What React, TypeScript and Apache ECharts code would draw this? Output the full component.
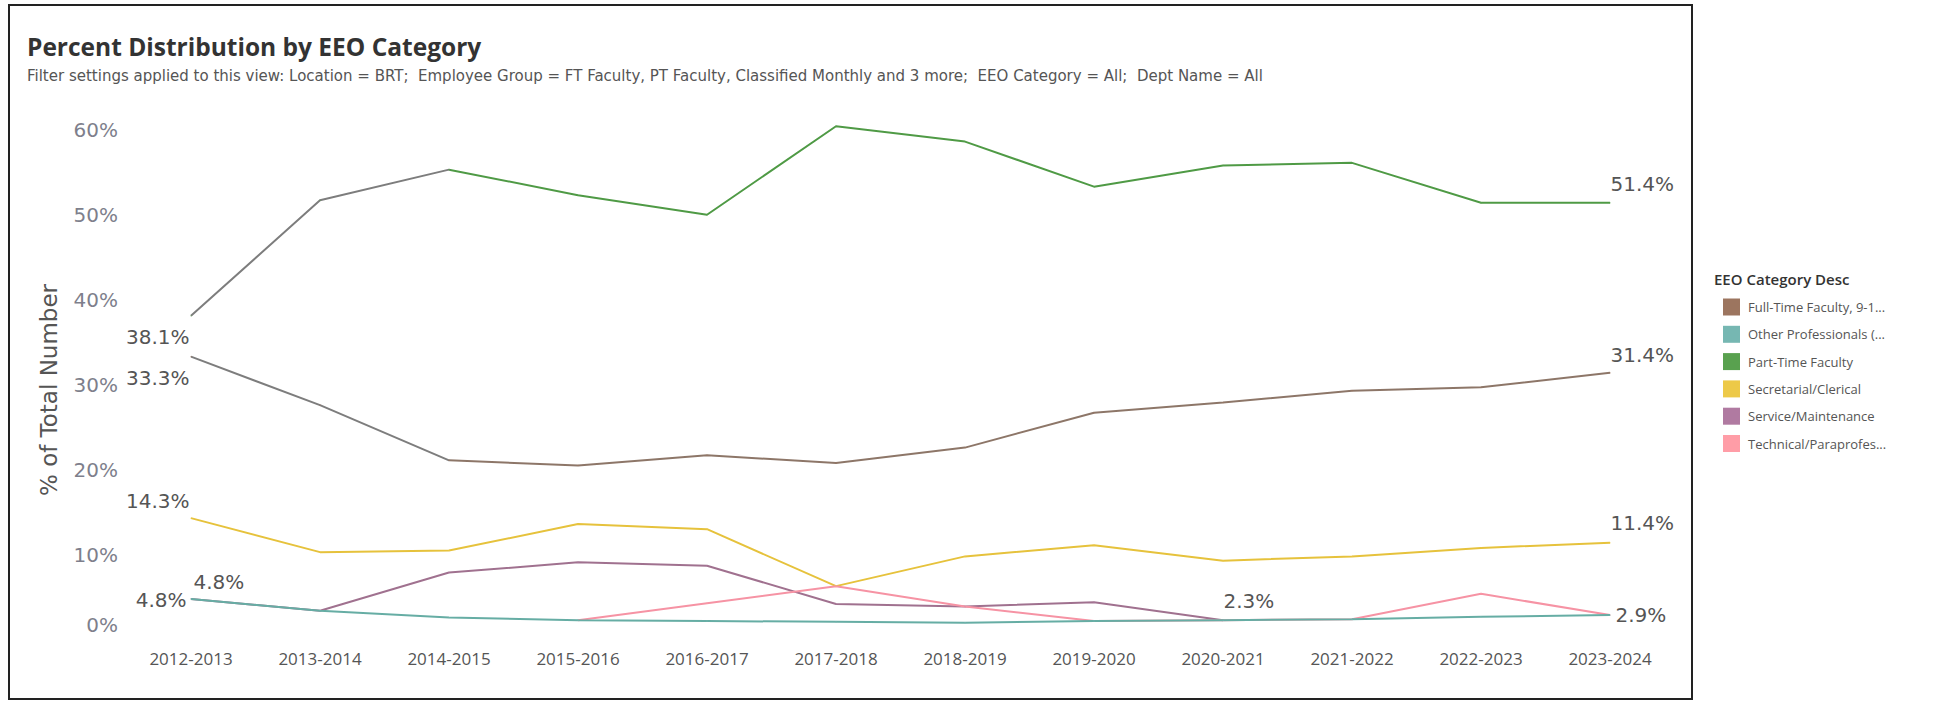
import React, { useEffect, useRef } from "react";
import * as echarts from "echarts";

const TITLE = "Percent Distribution by EEO Category";
const SUBTITLE =
  "Filter settings applied to this view: Location = BRT;  Employee Group = FT Faculty, PT Faculty, Classified Monthly and 3 more;  EEO Category = All;  Dept Name = All";
const Y_AXIS_TITLE = "% of Total Number";
const LEGEND_TITLE = "EEO Category Desc";

const years = [
  "2012-2013", "2013-2014", "2014-2015", "2015-2016", "2016-2017", "2017-2018",
  "2018-2019", "2019-2020", "2020-2021", "2021-2022", "2022-2023", "2023-2024",
];

const categoryNames = [
  "Full-Time Faculty, 9-1...",
  "Other Professionals (...",
  "Part-Time Faculty",
  "Secretarial/Clerical",
  "Service/Maintenance",
  "Technical/Paraprofes...",
];

const fullTimeFaculty = [33.3, 27.6, 21.1, 20.5, 21.7, 20.8, 22.6, 26.7, 27.9, 29.3, 29.7, 31.4];
const otherProfessionals = [4.8, 3.4, 2.6, 2.3, 2.2, 2.1, 2.0, 2.2, 2.3, 2.4, 2.7, 2.9];
const partTimeFaculty = [38.1, 51.7, 55.3, 52.3, 50.0, 60.4, 58.6, 53.3, 55.8, 56.1, 51.4, 51.4];
const secretarialClerical = [14.3, 10.3, 10.5, 13.6, 13.0, 6.3, 9.8, 11.1, 9.3, 9.8, 10.8, 11.4];
const serviceMaintenance = [4.8, 3.4, 7.9, 9.1, 8.7, 4.2, 3.9, 4.4, 2.3, null, null, null];
const technicalParaprof = [null, null, null, 2.3, 4.3, 6.3, 3.9, 2.2, 2.3, 2.4, 5.4, 2.9];

const yMin = 0;
const yMax = 63;
const yInterval = 10;

const legendColors = ["#9c755f", "#76b7b2", "#59a14f", "#edc948", "#b07aa1", "#ff9da7"];

const FONT = "'Open Sans', 'Noto Sans', sans-serif";
const WIDE = "'DejaVu Sans', 'Open Sans', sans-serif";

type LabelSpec = { position: string; distance: number; offset: [number, number] };

function buildData(vals: (number | null)[], labels: Record<number, LabelSpec>) {
  return vals.map((v, i) => {
    if (v == null) return null;
    const l = labels[i];
    if (!l) return v;
    return { value: v, label: { show: true, ...l } };
  });
}

export default function App() {
  const ref = useRef<HTMLDivElement>(null);

  useEffect(() => {
    if (!ref.current) return;
    const chart = echarts.init(ref.current, null, { renderer: "svg" });

    const grayThenColor = (gray: string, color: string) =>
      new echarts.graphic.LinearGradient(0, 0, 1, 0, [
        { offset: 0, color: gray },
        { offset: 0.181, color: gray },
        { offset: 0.183, color: color },
        { offset: 1, color: color },
      ]);

    const lineColors: any[] = [
      grayThenColor("#7d7d7d", "#8d7668"),
      "#66ada4",
      grayThenColor("#7d7d7d", "#4f9a45"),
      "#e6c23c",
      "#a0718f",
      "#f693a4",
    ];

    const values = [
      fullTimeFaculty,
      otherProfessionals,
      partTimeFaculty,
      secretarialClerical,
      serviceMaintenance,
      technicalParaprof,
    ];

    const labelSpecs: Record<number, LabelSpec>[] = [
      {
        0: { position: "left", distance: 1, offset: [0, 21] },
        11: { position: "right", distance: 0, offset: [0, -18] },
      },
      {
        0: { position: "left", distance: 4, offset: [0, 1] },
        11: { position: "right", distance: 5, offset: [0, 0] },
      },
      {
        0: { position: "left", distance: 1, offset: [0, 21] },
        11: { position: "right", distance: 0, offset: [0, -19] },
      },
      {
        0: { position: "left", distance: 1, offset: [0, -17] },
        11: { position: "right", distance: 0, offset: [0, -20] },
      },
      {
        0: { position: "right", distance: 2, offset: [0, -17] },
        8: { position: "right", distance: 0, offset: [0, -19] },
      },
      {},
    ];

    const series = values.map((vals, si) => ({
      name: categoryNames[si],
      type: "line",
      data: buildData(vals, labelSpecs[si]),
      symbol: "circle",
      symbolSize: 1,
      showSymbol: true,
      connectNulls: false,
      z: si === 1 ? 4 : 2,
      itemStyle: { color: legendColors[si] },
      lineStyle: { color: lineColors[si], width: 2 },
      emphasis: { disabled: true },
      label: {
        show: false,
        fontSize: 20,
        color: "#555555",
        fontFamily: WIDE,
        formatter: (p: any) => Number(p.value).toFixed(1) + "%",
      },
    }));

    const option: any = {
      animation: false,
      backgroundColor: "#ffffff",
      textStyle: { fontFamily: FONT },
      grid: {
        left: 126.5,
        right: 265.5,
        top: 104.2,
        bottom: 61.3,
        containLabel: false,
      },
      xAxis: {
        type: "category",
        data: years,
        boundaryGap: true,
        axisLine: { show: false },
        axisTick: { show: false },
        splitLine: { show: false },
        axisLabel: {
          fontSize: 17,
          color: "#555555",
          fontFamily: FONT,
          margin: 10,
          interval: 0,
        },
      },
      yAxis: {
        type: "value",
        min: yMin,
        max: yMax,
        interval: yInterval,
        axisLine: { show: false },
        axisTick: { show: false },
        splitLine: { show: false },
        axisLabel: {
          margin: 8.5,
          showMaxLabel: false,
          formatter: (v: number) => {
            if (v % 10 !== 0) return "";
            return v === 0 ? "{z|0%}" : "{n|" + v + "%}";
          },
          rich: {
            z: { fontSize: 20, color: "#7e7f8c", fontFamily: WIDE, padding: [0, 0, 30, 0] },
            n: { fontSize: 20, color: "#7e7f8c", fontFamily: WIDE },
          },
        },
      },
      legend: {
        orient: "vertical",
        left: 1718,
        top: 293.5,
        icon: "rect",
        itemWidth: 17,
        itemHeight: 17,
        itemGap: 10.3,
        itemStyle: { borderWidth: 0 },
        selectedMode: false,
        textStyle: {
          fontSize: 13,
          color: "#555555",
          fontFamily: FONT,
          padding: [0, 0, 0, 3],
        },
        data: categoryNames,
      },
      graphic: [
        {
          type: "rect",
          shape: { x: 9, y: 5, width: 1683, height: 694 },
          style: { fill: "none", stroke: "#222222", lineWidth: 2 },
          silent: true,
        },
        {
          type: "text",
          x: 27,
          y: 46,
          style: {
            text: TITLE,
            fontSize: 24.5,
            fontWeight: "bold",
            fill: "#333333",
            fontFamily: FONT,
            textVerticalAlign: "middle",
          },
        },
        {
          type: "text",
          x: 27,
          y: 75.5,
          style: {
            text: SUBTITLE,
            fontSize: 15,
            fill: "#555555",
            fontFamily: WIDE,
            textVerticalAlign: "middle",
          },
        },
        {
          type: "text",
          x: 49,
          y: 390,
          rotation: Math.PI / 2,
          style: {
            text: Y_AXIS_TITLE,
            fontSize: 23,
            fill: "#555555",
            fontFamily: WIDE,
            textAlign: "center",
            textVerticalAlign: "middle",
          },
        },
        {
          type: "text",
          x: 1714,
          y: 278.5,
          style: {
            text: LEGEND_TITLE,
            fontSize: 15,
            fontWeight: 600,
            fill: "#333333",
            fontFamily: FONT,
            textVerticalAlign: "middle",
          },
        },
      ],
      series,
    };

    chart.setOption(option);
    return () => chart.dispose();
  }, []);

  return (
    <div
      ref={ref}
      style={{ position: "absolute", left: 0, top: 0, width: 1940, height: 701 }}
    />
  );
}
